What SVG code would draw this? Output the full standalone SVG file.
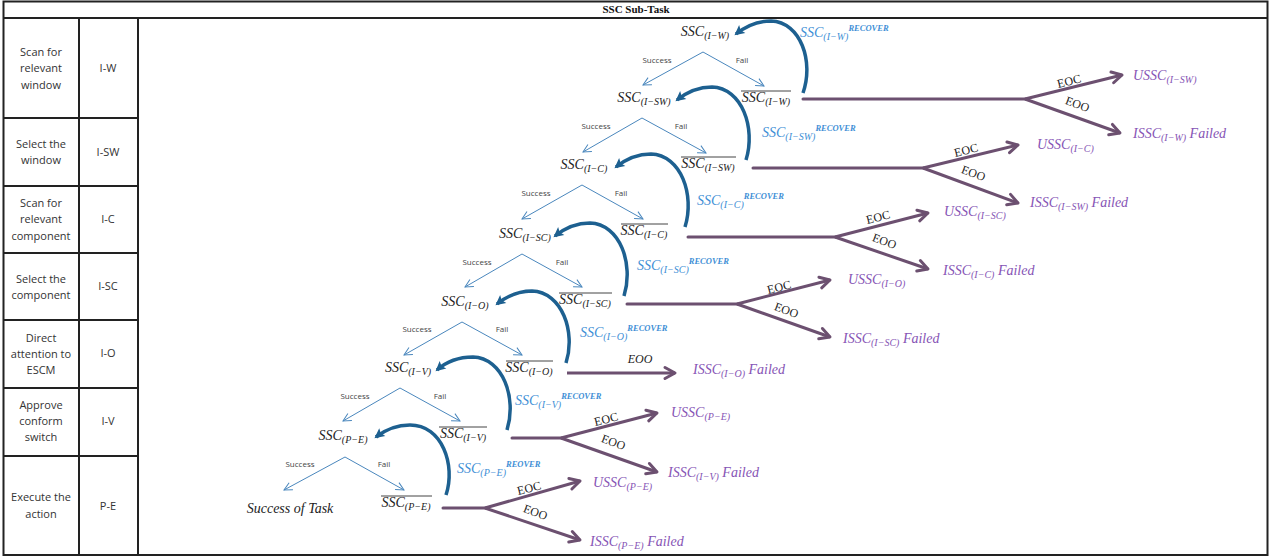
<svg xmlns="http://www.w3.org/2000/svg" width="1272" height="559" viewBox="0 0 1272 559">
<defs>
<style>
.tb{font-family:"Open Sans","Liberation Sans",sans-serif;font-size:11px;fill:#333;text-anchor:middle}
.ttl{font-family:"Liberation Serif",serif;font-weight:bold;font-size:11px;fill:#111;text-anchor:middle}
.m{font-family:"Liberation Serif",serif;font-style:italic;font-size:14px;fill:#222}
.c{text-anchor:middle}
.s{font-size:10px}
.sp{font-size:8.5px;font-weight:bold}
.lb{font-family:"Open Sans","Liberation Sans",sans-serif;font-size:8px;fill:#444;text-anchor:middle}
.rc{fill:#3f8fd6}
.pu{fill:#8654b5}
.e{font-family:"Liberation Serif",serif;font-size:12px;fill:#222;text-anchor:middle}
.tree{stroke:#4a87bd;stroke-width:1;fill:none;marker-end:url(#ta)}
.arc{stroke:#1d6090;stroke-width:3.5;fill:none;marker-end:url(#aa)}
.pl{stroke:#6c5070;stroke-width:3;fill:none;stroke-linecap:round}
.pa{stroke:#6c5070;stroke-width:3;fill:none;marker-end:url(#pa)}
.ov{stroke:#444;stroke-width:1}
.grid{stroke:#222;stroke-width:2;fill:none}
</style>
<marker id="ta" markerUnits="userSpaceOnUse" markerWidth="10" markerHeight="10" refX="8" refY="4" orient="auto" overflow="visible">
<path d="M0,0 L8,4 L0,8" fill="none" stroke="#4a87bd" stroke-width="1"/>
</marker>
<marker id="aa" markerUnits="userSpaceOnUse" markerWidth="12" markerHeight="12" refX="8" refY="5" orient="auto" overflow="visible">
<path d="M0,0 L10,5 L0,10 L2,5 z" fill="#1d6090"/>
</marker>
<marker id="pa" markerUnits="userSpaceOnUse" markerWidth="14" markerHeight="14" refX="11" refY="6" orient="auto" overflow="visible">
<path d="M1,0.5 L11,6 L1,11.5" fill="none" stroke="#6c5070" stroke-width="3" stroke-linecap="round" stroke-linejoin="round"/>
</marker>
</defs>
<rect x="0" y="0" width="1272" height="559" fill="#fff"/>

<g id="table">
<rect class="grid" x="3.5" y="1.5" width="1264" height="553.5" stroke-width="2.5"/>
<line class="grid" x1="3" y1="18" x2="1268" y2="18"/>
<line class="grid" x1="79" y1="18" x2="79" y2="555"/>
<line class="grid" x1="138" y1="18" x2="138" y2="555"/>
<line class="grid" x1="3" y1="118" x2="138" y2="118"/>
<line class="grid" x1="3" y1="186" x2="138" y2="186"/>
<line class="grid" x1="3" y1="253" x2="138" y2="253"/>
<line class="grid" x1="3" y1="320" x2="138" y2="320"/>
<line class="grid" x1="3" y1="388" x2="138" y2="388"/>
<line class="grid" x1="3" y1="456" x2="138" y2="456"/>
<text class="ttl" x="636" y="13">SSC Sub-Task</text>
</g>

<g id="row-iw"><text class="tb" x="41" y="56">Scan for</text><text class="tb" x="41" y="72">relevant</text><text class="tb" x="41" y="89">window</text><text class="tb" x="108" y="72">I-W</text></g>
<g id="row-isw"><text class="tb" x="41" y="148">Select the</text><text class="tb" x="41" y="164">window</text><text class="tb" x="108" y="156">I-SW</text></g>
<g id="row-ic"><text class="tb" x="41" y="207">Scan for</text><text class="tb" x="41" y="223">relevant</text><text class="tb" x="41" y="240">component</text><text class="tb" x="108" y="223">I-C</text></g>
<g id="row-isc"><text class="tb" x="41" y="283">Select the</text><text class="tb" x="41" y="299">component</text><text class="tb" x="108" y="290">I-SC</text></g>
<g id="row-io"><text class="tb" x="41" y="342">Direct</text><text class="tb" x="41" y="358">attention to</text><text class="tb" x="41" y="374">ESCM</text><text class="tb" x="108" y="357">I-O</text></g>
<g id="row-iv"><text class="tb" x="41" y="409">Approve</text><text class="tb" x="41" y="425">conform</text><text class="tb" x="41" y="441">switch</text><text class="tb" x="108" y="425">I-V</text></g>
<g id="row-pe"><text class="tb" x="41" y="501">Execute the</text><text class="tb" x="41" y="518">action</text><text class="tb" x="108" y="510">P-E</text></g>

<g id="connectors">
<path class="tree" d="M703,52 L643,85"/><path class="tree" d="M703,52 L764,86"/>
<path class="tree" d="M642,118 L583,152"/><path class="tree" d="M642,118 L706,153"/>
<path class="tree" d="M582,185 L522,219"/><path class="tree" d="M582,185 L643,219"/>
<path class="tree" d="M522,254 L465,287"/><path class="tree" d="M522,254 L582,287"/>
<path class="tree" d="M462,322 L404,355"/><path class="tree" d="M462,322 L522,355"/>
<path class="tree" d="M400,388 L343,421"/><path class="tree" d="M400,388 L460,421"/>
<path class="tree" d="M345,457 L284,490"/><path class="tree" d="M345,457 L404,490"/>
<path class="arc" transform="translate(703,52)" d="M100,41 C111,10 98,-30 68,-31 C53,-31 43,-26 33,-18"/>
<path class="arc" transform="translate(642,118)" d="M104,42 C114,10 100,-30 70,-31 C55,-31 45,-26 35,-18"/>
<path class="arc" transform="translate(582,185)" d="M103,42 C113,10 99,-30 69,-31 C54,-31 44,-26 34,-18"/>
<path class="arc" transform="translate(522,254)" d="M102,42 C112,10 98,-30 68,-31 C53,-31 43,-26 33,-18"/>
<path class="arc" transform="translate(462,322)" d="M104,41 C114,10 100,-30 70,-31 C55,-31 45,-26 35,-18"/>
<path class="arc" transform="translate(400,388)" d="M107,42 C117,10 103,-30 73,-31 C58,-31 46,-26 37,-18"/>
<path class="arc" transform="translate(345,457)" d="M101,38 C111,8 97,-32 65,-32 C50,-32 40,-27 31,-20"/>
<path class="pl" d="M803,99 L1025,99"/><path class="pa" d="M1025,99 L1122,75"/><path class="pa" d="M1025,99 L1120,133"/>
<path class="pl" d="M753,168 L923,168"/><path class="pa" d="M923,168 L1018,145"/><path class="pa" d="M923,168 L1018,203"/>
<path class="pl" d="M688,237 L835,237"/><path class="pa" d="M835,237 L928,213"/><path class="pa" d="M835,237 L928,269"/>
<path class="pl" d="M627,304 L737,304"/><path class="pa" d="M737,304 L830,280"/><path class="pa" d="M737,304 L830,337"/>
<path class="pa" d="M567,373 L675,373"/>
<path class="pl" d="M512,438 L561,438"/><path class="pa" d="M561,438 L657,413"/><path class="pa" d="M561,438 L657,472"/>
<path class="pl" d="M443,508 L485,508"/><path class="pa" d="M485,508 L580,481"/><path class="pa" d="M485,508 L580,540"/>
<text class="lb" x="657" y="63">Success</text><text class="lb" x="742" y="63">Fail</text>
<text class="lb" x="596" y="129">Success</text><text class="lb" x="681" y="129">Fail</text>
<text class="lb" x="536" y="196">Success</text><text class="lb" x="621" y="196">Fail</text>
<text class="lb" x="477" y="265">Success</text><text class="lb" x="562" y="265">Fail</text>
<text class="lb" x="417" y="332">Success</text><text class="lb" x="502" y="332">Fail</text>
<text class="lb" x="355" y="399">Success</text><text class="lb" x="440" y="399">Fail</text>
<text class="lb" x="300" y="467">Success</text><text class="lb" x="384" y="467">Fail</text>
<text class="e" transform="translate(1070,85) rotate(-14)">EOC</text>
<text class="e" transform="translate(1076,108) rotate(20)">EOO</text>
<text class="e" transform="translate(967,154) rotate(-14)">EOC</text>
<text class="e" transform="translate(972,177) rotate(20)">EOO</text>
<text class="e" transform="translate(879,221) rotate(-14)">EOC</text>
<text class="e" transform="translate(883,245) rotate(20)">EOO</text>
<text class="e" transform="translate(780,291) rotate(-14)">EOC</text>
<text class="e" transform="translate(785,314) rotate(20)">EOO</text>
<text class="e" x="640" y="363" font-style="italic">EOO</text>
<text class="e" transform="translate(607,423) rotate(-14)">EOC</text>
<text class="e" transform="translate(612,446) rotate(20)">EOO</text>
<text class="e" transform="translate(530,492) rotate(-14)">EOC</text>
<text class="e" transform="translate(534,516) rotate(20)">EOO</text>
</g>

<g id="node-ssc-iw"><text class="m c" x="705" y="36">SSC<tspan class="s" dy="3">(I−W)</tspan></text></g>
<g id="node-ssc-isw"><text class="m c" x="644" y="102">SSC<tspan class="s" dy="3">(I−SW)</tspan></text></g>
<g id="node-ssc-ic"><text class="m c" x="584" y="169">SSC<tspan class="s" dy="3">(I−C)</tspan></text></g>
<g id="node-ssc-isc"><text class="m c" x="525" y="238">SSC<tspan class="s" dy="3">(I−SC)</tspan></text></g>
<g id="node-ssc-io"><text class="m c" x="465" y="306">SSC<tspan class="s" dy="3">(I−O)</tspan></text></g>
<g id="node-ssc-iv"><text class="m c" x="408" y="372">SSC<tspan class="s" dy="3">(I−V)</tspan></text></g>
<g id="node-ssc-pe"><text class="m c" x="343" y="440">SSC<tspan class="s" dy="3">(P−E)</tspan></text></g>
<g id="node-success"><text class="m c" x="290" y="513" font-size="15">Success of Task</text></g>

<g id="fail-iw"><line class="ov" x1="741" y1="91" x2="791" y2="91"/><text class="m c" x="766" y="102">SSC<tspan class="s" dy="3">(I−W)</tspan></text></g>
<g id="fail-isw"><line class="ov" x1="681" y1="157" x2="736" y2="157"/><text class="m c" x="708" y="168">SSC<tspan class="s" dy="3">(I−SW)</tspan></text></g>
<g id="fail-ic"><line class="ov" x1="621" y1="224" x2="668" y2="224"/><text class="m c" x="644" y="235">SSC<tspan class="s" dy="3">(I−C)</tspan></text></g>
<g id="fail-isc"><line class="ov" x1="559" y1="293" x2="612" y2="293"/><text class="m c" x="585" y="304">SSC<tspan class="s" dy="3">(I−SC)</tspan></text></g>
<g id="fail-io"><line class="ov" x1="506" y1="361" x2="553" y2="361"/><text class="m c" x="529" y="372">SSC<tspan class="s" dy="3">(I−O)</tspan></text></g>
<g id="fail-iv"><line class="ov" x1="439" y1="427" x2="487" y2="427"/><text class="m c" x="463" y="438">SSC<tspan class="s" dy="3">(I−V)</tspan></text></g>
<g id="fail-pe"><line class="ov" x1="381" y1="496" x2="432" y2="496"/><text class="m c" x="406" y="507">SSC<tspan class="s" dy="3">(P−E)</tspan></text></g>

<g id="recover-iw"><text class="m rc" x="800" y="37">SSC<tspan class="s" dy="3">(I−W)</tspan><tspan class="sp" dy="-9">RECOVER</tspan></text></g>
<g id="recover-isw"><text class="m rc" x="762" y="137">SSC<tspan class="s" dy="3">(I−SW)</tspan><tspan class="sp" dy="-9">RECOVER</tspan></text></g>
<g id="recover-ic"><text class="m rc" x="697" y="205">SSC<tspan class="s" dy="3">(I−C)</tspan><tspan class="sp" dy="-9">RECOVER</tspan></text></g>
<g id="recover-isc"><text class="m rc" x="637" y="270">SSC<tspan class="s" dy="3">(I−SC)</tspan><tspan class="sp" dy="-9">RECOVER</tspan></text></g>
<g id="recover-io"><text class="m rc" x="580" y="337">SSC<tspan class="s" dy="3">(I−O)</tspan><tspan class="sp" dy="-9">RECOVER</tspan></text></g>
<g id="recover-iv"><text class="m rc" x="515" y="405">SSC<tspan class="s" dy="3">(I−V)</tspan><tspan class="sp" dy="-9">RECOVER</tspan></text></g>
<g id="recover-pe"><text class="m rc" x="457" y="473">SSC<tspan class="s" dy="3">(P−E)</tspan><tspan class="sp" dy="-9">REOVER</tspan></text></g>

<g id="out-ussc-isw"><text class="m pu" x="1133" y="80">USSC<tspan class="s" dy="3">(I−SW)</tspan></text></g>
<g id="out-issc-iw"><text class="m pu" x="1133" y="138">ISSC<tspan class="s" dy="3">(I−W)</tspan><tspan dy="-3"> Failed</tspan></text></g>
<g id="out-ussc-ic"><text class="m pu" x="1037" y="149">USSC<tspan class="s" dy="3">(I−C)</tspan></text></g>
<g id="out-issc-isw"><text class="m pu" x="1030" y="207">ISSC<tspan class="s" dy="3">(I−SW)</tspan><tspan dy="-3"> Failed</tspan></text></g>
<g id="out-ussc-isc"><text class="m pu" x="944" y="216">USSC<tspan class="s" dy="3">(I−SC)</tspan></text></g>
<g id="out-issc-ic"><text class="m pu" x="943" y="275">ISSC<tspan class="s" dy="3">(I−C)</tspan><tspan dy="-3"> Failed</tspan></text></g>
<g id="out-ussc-io"><text class="m pu" x="848" y="284">USSC<tspan class="s" dy="3">(I−O)</tspan></text></g>
<g id="out-issc-isc"><text class="m pu" x="843" y="343">ISSC<tspan class="s" dy="3">(I−SC)</tspan><tspan dy="-3"> Failed</tspan></text></g>
<g id="out-issc-io"><text class="m pu" x="693" y="374">ISSC<tspan class="s" dy="3">(I−O)</tspan><tspan dy="-3"> Failed</tspan></text></g>
<g id="out-ussc-pe1"><text class="m pu" x="671" y="417">USSC<tspan class="s" dy="3">(P−E)</tspan></text></g>
<g id="out-issc-iv"><text class="m pu" x="668" y="477">ISSC<tspan class="s" dy="3">(I−V)</tspan><tspan dy="-3"> Failed</tspan></text></g>
<g id="out-ussc-pe2"><text class="m pu" x="593" y="487">USSC<tspan class="s" dy="3">(P−E)</tspan></text></g>
<g id="out-issc-pe"><text class="m pu" x="590" y="546">ISSC<tspan class="s" dy="3">(P−E)</tspan><tspan dy="-3"> Failed</tspan></text></g>
</svg>
